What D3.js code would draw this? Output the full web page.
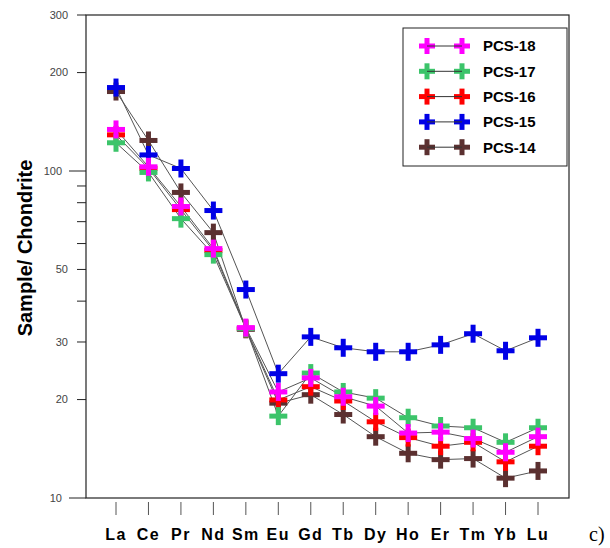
<!DOCTYPE html>
<html>
<head>
<meta charset="utf-8">
<script src="https://cdn.jsdelivr.net/npm/d3@7"></script>
<style>
  html, body { margin: 0; padding: 0; background: #fff; }
  svg { display: block; }
</style>
</head>
<body>
<div id="chart"></div>
<script>
// Chondrite-normalised REE patterns
const elements = ["La","Ce","Pr","Nd","Sm","Eu","Gd","Tb","Dy","Ho","Er","Tm","Yb","Lu"];
const pcs14 = [175, 124, 86, 64.8, 32.8, 19.5, 20.7, 18.0, 15.4, 13.7, 13.1, 13.2, 11.5, 12.1];
const pcs15 = [180, 112, 101.8, 75.7, 43.4, 24.0, 31.1, 28.8, 28.0, 28.0, 29.4, 31.8, 28.2, 30.9];
const pcs16 = [129, 101.9, 76.2, 57.1, 33.0, 19.95, 21.9, 19.8, 17.1, 15.3, 14.4, 14.8, 12.9, 14.4];
const pcs17 = [122, 99, 71.5, 55.5, 33.0, 17.8, 24.1, 21.1, 20.2, 17.6, 16.6, 16.4, 14.8, 16.4];
const pcs18 = [134, 103, 77.9, 57.9, 33.2, 21.1, 23.3, 20.4, 19.1, 15.8, 15.9, 15.2, 13.8, 15.4];
const yTicks = [10, 20, 30, 50, 100, 200, 300];
const yMinor = [40, 60, 70, 80, 90];

// draw order (last on top)
const series = [
  { name: "PCS-14", values: pcs14, color: "#5b3030" },
  { name: "PCS-15", values: pcs15, color: "#0000e6" },
  { name: "PCS-16", values: pcs16, color: "#ff0000" },
  { name: "PCS-17", values: pcs17, color: "#3cc46a" },
  { name: "PCS-18", values: pcs18, color: "#ff00ff" }
];
const legendOrder = ["PCS-18","PCS-17","PCS-16","PCS-15","PCS-14"];

const W = 610, H = 548;
const frame = { left: 86, top: 15, right: 569, bottom: 498 };

const svg = d3.select("#chart").append("svg")
  .attr("width", W).attr("height", H);

const x = d3.scalePoint().domain(elements).range([116, 538]);
const y = d3.scaleLog().domain([10, 300]).range([frame.bottom, frame.top]);

// frame
svg.append("rect")
  .attr("x", frame.left).attr("y", frame.top)
  .attr("width", frame.right - frame.left).attr("height", frame.bottom - frame.top)
  .attr("fill", "none").attr("stroke", "#222").attr("stroke-width", 1.2);

// y axis ticks and labels
const yAxis = svg.append("g");
const longTick = v => v === 10 || v === 100;
yAxis.selectAll("line.major").data(yTicks).join("line")
  .attr("x1", d => longTick(d) ? 69 : 77).attr("x2", frame.left)
  .attr("y1", d => y(d)).attr("y2", d => y(d))
  .attr("stroke", "#222").attr("stroke-width", 1);
yAxis.selectAll("line.minor").data(yMinor).join("line")
  .attr("x1", 77).attr("x2", frame.left)
  .attr("y1", d => y(d)).attr("y2", d => y(d))
  .attr("stroke", "#222").attr("stroke-width", 1);
yAxis.selectAll("text").data(yTicks).join("text")
  .attr("x", d => longTick(d) ? 62 : 68)
  .attr("y", d => y(d))
  .attr("dy", "0.35em")
  .attr("text-anchor", "end")
  .attr("font-family", "Liberation Sans, Arial, sans-serif")
  .attr("font-size", 11)
  .attr("fill", "#444")
  .text(d => d);

// y title
svg.append("text")
  .attr("transform", "translate(32,248) rotate(-90)")
  .attr("text-anchor", "middle")
  .attr("font-family", "Liberation Sans, Arial, sans-serif")
  .attr("font-weight", "bold")
  .attr("font-size", 20)
  .attr("fill", "#000")
  .text("Sample/ Chondrite");

// x ticks and labels
const xAxis = svg.append("g");
xAxis.selectAll("line").data(elements).join("line")
  .attr("x1", d => x(d)).attr("x2", d => x(d))
  .attr("y1", 502).attr("y2", 515)
  .attr("stroke", "#555").attr("stroke-width", 1);
xAxis.selectAll("text").data(elements).join("text")
  .attr("x", d => x(d)).attr("y", 540)
  .attr("text-anchor", "middle")
  .attr("font-family", "Liberation Sans, Arial, sans-serif")
  .attr("font-weight", "bold")
  .attr("font-size", 16)
  .attr("letter-spacing", 1.5)
  .attr("fill", "#000")
  .text(d => d);

svg.append("text")
  .attr("x", 589).attr("y", 541)
  .attr("font-family", "Liberation Serif, Times New Roman, serif")
  .attr("font-size", 20)
  .attr("fill", "#000")
  .text("c)");

// plus marker
function plus(g, cx, cy, color, half, sw) {
  g.append("line").attr("x1", cx - half).attr("x2", cx + half)
    .attr("y1", cy).attr("y2", cy)
    .attr("stroke", color).attr("stroke-width", sw);
  g.append("line").attr("x1", cx).attr("x2", cx)
    .attr("y1", cy - half).attr("y2", cy + half)
    .attr("stroke", color).attr("stroke-width", sw);
}

const line = d3.line()
  .x((d, i) => x(elements[i]))
  .y(d => y(d));

const plot = svg.append("g");
// connecting lines underneath
series.forEach(s => {
  plot.append("path")
    .attr("d", line(s.values))
    .attr("fill", "none")
    .attr("stroke", "#555")
    .attr("stroke-width", 1);
});
// markers
series.forEach(s => {
  const g = plot.append("g");
  s.values.forEach((v, i) => plus(g, x(elements[i]), y(v), s.color, 9, 5));
});

// legend
const legend = svg.append("g");
legend.append("rect")
  .attr("x", 403).attr("y", 28).attr("width", 164).attr("height", 138)
  .attr("fill", "#fff").attr("stroke", "#222").attr("stroke-width", 1);
legendOrder.forEach((name, i) => {
  const s = series.find(d => d.name === name);
  const cy = 46 + i * 25.3;
  const g = legend.append("g");
  plus(g, 427, cy, s.color, 8, 5);
  plus(g, 462, cy, s.color, 8, 5);
  g.append("line").attr("x1", 427).attr("x2", 462)
    .attr("y1", cy).attr("y2", cy)
    .attr("stroke", "#333").attr("stroke-width", 1);
  g.append("text")
    .attr("x", 483).attr("y", cy).attr("dy", "0.36em")
    .attr("font-family", "Liberation Sans, Arial, sans-serif")
    .attr("font-weight", "bold")
    .attr("font-size", 15)
    .attr("fill", "#000")
    .text(name);
});
</script>
</body>
</html>
